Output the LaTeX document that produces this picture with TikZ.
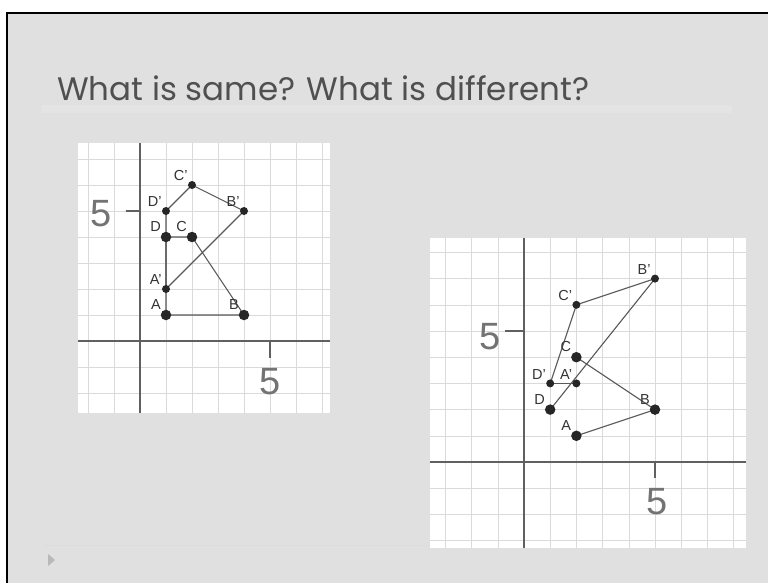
\documentclass[tikz,border=0pt]{standalone}
\usepackage{fontspec}
\setmainfont{Liberation Sans}
\newfontfamily\titlefont{Poppins}
\usetikzlibrary{positioning}
\definecolor{slidegray}{RGB}{224,224,224}
\definecolor{axisgray}{RGB}{96,96,96}
\definecolor{gridgray}{RGB}{218,218,218}
\definecolor{titlegray}{RGB}{80,80,80}

\begin{document}
\begin{tikzpicture}[x=1pt, y=-1pt,
    dot/.style={circle, fill=black!85, inner sep=0pt, minimum size=10.5pt},
    sdot/.style={dot, minimum size=8pt},
    lbl/.style={font=\fontsize{14.5}{14.5}\selectfont, text=black!80, inner sep=1.2pt},
    edge/.style={draw=black!65, line width=1.1pt},
    axis/.style={draw=axisgray, line width=2.6pt},
    tick/.style={draw=axisgray, line width=1.2pt},
    num/.style={font=\fontsize{38}{38}\selectfont, text=black!55}]
  \useasboundingbox (0,0) rectangle (768,582);
  \fill[white] (0,0) rectangle (768,582);
  \filldraw[fill=slidegray, draw=black, line width=1.6pt] (7,13) rectangle (800,610);

  % title and bars
  \node[anchor=base west, inner sep=0pt, font=\titlefont\fontsize{32.5}{32.5}\selectfont, text=titlegray] (title) at (57,100) {What is same? What is different?};
  \fill[white, opacity=0.15] (42,105) rectangle (732,113);
  \draw[black!14, line width=1pt] (45,545) -- (520,545);
  \fill[black!28] (48,554) -- (55,560) -- (48,566) -- cycle;

  % left graph
  \begin{scope}[shift={(140,341)}, x=26pt, y=26pt]
    \fill[white] (-2.38,-2.77) rectangle (7.3,7.6);
    \foreach \k in {-2,...,7} {
      \draw[gridgray] (\k,-2.77) -- (\k,7.6);
      \draw[gridgray] (-2.38,\k) -- (7.3,\k);
    }
    \draw[axis] (-2.38,0) -- (7.3,0);
    \draw[axis] (0,-2.77) -- (0,7.6);
    \draw[tick] (-0.55,5) -- (0,5);
    \draw[tick] (5,0) -- (5,-0.65);
    \node[num] (ly5) at (-1.5,4.9) {5};
    \node[num] (lx5) at (5,-1.57) {5};
    \coordinate (lA) at (1,1);
    \coordinate (lB) at (4,1);
    \coordinate (lC) at (2,4);
    \coordinate (lD) at (1,4);
    \coordinate (lA1) at (1,2);
    \coordinate (lB1) at (4,5);
    \coordinate (lC1) at (2,6);
    \coordinate (lD1) at (1,5);
    \draw[edge] (lA) -- (lB) -- (lC) -- (lD) -- cycle;
    \draw[edge] (lA1) -- (lB1) -- (lC1) -- (lD1) -- cycle;
    \node[dot, label={[lbl]135:A}] at (lA) {};
    \node[dot, label={[lbl]135:B}] at (lB) {};
    \node[dot, label={[lbl]135:C}] at (lC) {};
    \node[dot, label={[lbl]135:D}] at (lD) {};
    \node[sdot, label={[lbl]135:A'}] at (lA1) {};
    \node[sdot, label={[lbl]135:B'}] at (lB1) {};
    \node[sdot, label={[lbl]135:C'}] at (lC1) {};
    \node[sdot, label={[lbl]135:D'}] at (lD1) {};
  \end{scope}

  % right graph
  \begin{scope}[shift={(524,462)}, x=26.2pt, y=26.2pt]
    \fill[white] (-3.59,-3.28) rectangle (8.47,8.55);
    \foreach \k in {-3,...,8} {
      \draw[gridgray] (\k,-3.28) -- (\k,8.55);
      \draw[gridgray] (-3.59,\k) -- (8.47,\k);
    }
    \draw[axis] (-3.59,0) -- (8.47,0);
    \draw[axis] (0,-3.28) -- (0,8.55);
    \draw[tick] (-0.73,5) -- (0,5);
    \draw[tick] (5,0) -- (5,-0.6);
    \node[num] (ry5) at (-1.3,4.78) {5};
    \node[num] (rx5) at (5.06,-1.52) {5};
    \coordinate (rA) at (2,1);
    \coordinate (rB) at (5,2);
    \coordinate (rC) at (2,4);
    \coordinate (rD) at (1,2);
    \coordinate (rA1) at (2,3);
    \coordinate (rB1) at (5,7);
    \coordinate (rC1) at (2,6);
    \coordinate (rD1) at (1,3);
    \draw[edge] (rA) -- (rB) -- (rC);
    \draw[edge] (rD1) -- (rA1);
    \draw[edge] (rD) -- (rB1) -- (rC1) -- (rD1);
    \node[dot, label={[lbl]135:A}] at (rA) {};
    \node[dot, label={[lbl]135:B}] at (rB) {};
    \node[dot, label={[lbl]135:C}] at (rC) {};
    \node[dot, label={[lbl]135:D}] at (rD) {};
    \node[sdot, label={[lbl]135:A'}] at (rA1) {};
    \node[sdot, label={[lbl]135:B'}] at (rB1) {};
    \node[sdot, label={[lbl]135:C'}] at (rC1) {};
    \node[sdot, label={[lbl]135:D'}] at (rD1) {};
  \end{scope}
\end{tikzpicture}
\end{document}
